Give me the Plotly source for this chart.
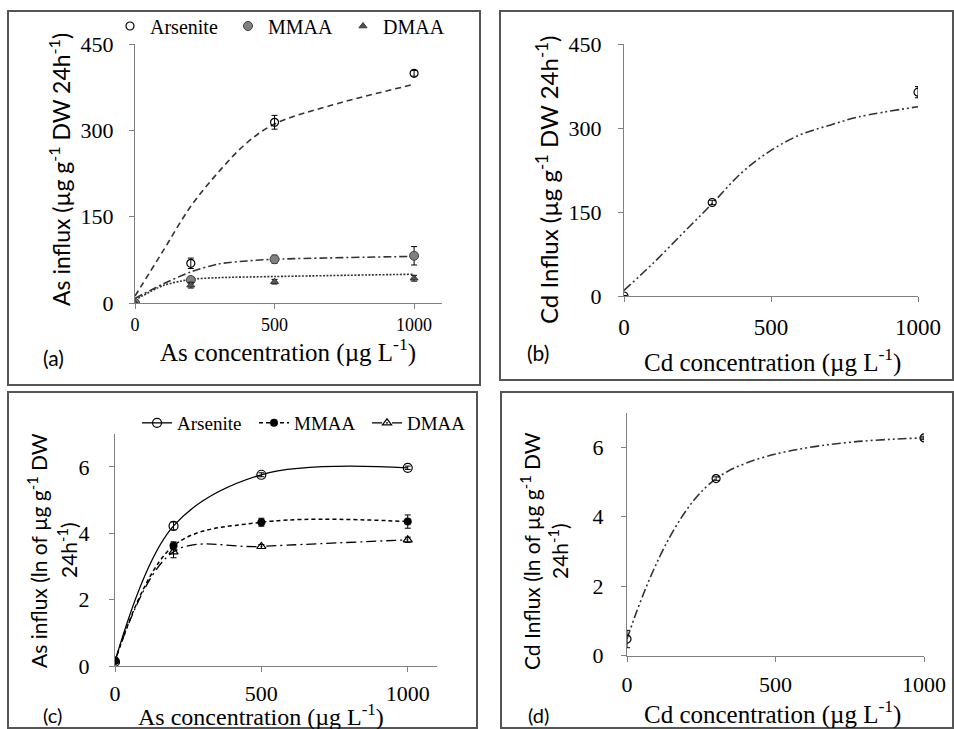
import plotly.graph_objects as go

W, H = 954, 729
SERIF = "Liberation Serif"
SANS = "Lato"
DARK = "#333333"
AXC = "#808080"

# ---------------- data ----------------
# Panel (a): As influx (µg g-1 DW 24h-1)
conc_a = [0, 200, 500, 1000]
ars_a = [0, 69, 314, 399]
ars_a_err = [2, 9, 12, 5]
mmaa_a = [0, 40, 76, 82]
mmaa_a_err = [1, 5, 7, 16]
dmaa_a = [0, 31, 37, 43]
dmaa_a_err = [1, 5, 4, 5]
# trend curves
ars_fit_x = [0, 100, 200, 300, 400, 500, 700, 1000]
ars_fit_a = [12, 90, 168, 228, 278, 311, 343, 380]
mmaa_fit_x = [0, 100, 200, 300, 400, 500, 1000]
mmaa_fit_a = [8, 33, 54, 68, 73, 76, 81]
dmaa_fit_x = [0, 100, 200, 300, 500, 1000]
dmaa_fit_a = [5, 30, 41, 44, 46, 50]

# Panel (b): Cd influx (µg g-1 DW 24h-1)
conc_b = [0, 300, 1000]
cd_b = [0, 167, 364]
cd_b_err = [1, 4, 10]
cd_fit_x = [0, 100, 200, 300, 400, 500, 600, 700, 800, 1000]
cd_fit_b = [10, 59, 112, 165, 220, 260, 288, 305, 320, 338]

# Panel (c): As influx (ln)
conc_c = [0, 200, 500, 1000]
ars_c = [0.13, 4.22, 5.76, 5.97]
ars_c_err = [0.05, 0.12, 0.06, 0.05]
mmaa_c = [0.15, 3.62, 4.33, 4.35]
mmaa_c_err = [0.05, 0.12, 0.12, 0.2]
dmaa_c = [0.15, 3.44, 3.6, 3.8]
dmaa_c_err = [0.05, 0.18, 0.06, 0.08]

# Panel (d): Cd influx (ln)
conc_d = [0, 300, 1000]
cd_d = [0.48, 5.1, 6.27]
cd_d_err = [0.25, 0.05, 0.05]

x_ticks = [0, 500, 1000]
y_ticks_abs = [0, 150, 300, 450]
y_ticks_ln = [0, 2, 4, 6]


def PX(x):
    return x / W


def PY(y):
    return 1 - y / H


fig = go.Figure()


def err(arr):
    return dict(type="data", array=arr, visible=True, color="black", thickness=1, width=3)


# Panel a
fig.add_trace(go.Scatter(x=ars_fit_x, y=ars_fit_a, mode="lines",
                         line=dict(color=DARK, width=1.6, dash="6px,4px", shape="spline", smoothing=1.0),
                         showlegend=False, xaxis="x", yaxis="y"))
fig.add_trace(go.Scatter(x=mmaa_fit_x, y=mmaa_fit_a, mode="lines",
                         line=dict(color=DARK, width=1.6, dash="8px,3px,2px,3px", shape="spline", smoothing=0.8),
                         showlegend=False, xaxis="x", yaxis="y"))
fig.add_trace(go.Scatter(x=dmaa_fit_x, y=dmaa_fit_a, mode="lines",
                         line=dict(color=DARK, width=1.6, dash="2px,1.5px", shape="spline", smoothing=0.8),
                         showlegend=False, xaxis="x", yaxis="y"))
fig.add_trace(go.Scatter(x=conc_a, y=ars_a, error_y=err(ars_a_err), mode="markers", name="Arsenite",
                         marker=dict(symbol="circle-open", size=8, color="black", line=dict(width=1.2)),
                         xaxis="x", yaxis="y", legend="legend"))
fig.add_trace(go.Scatter(x=conc_a, y=mmaa_a, error_y=err(mmaa_a_err), mode="markers", name="MMAA",
                         marker=dict(symbol="circle", size=9, color="#808080", line=dict(width=1, color="#404040")),
                         xaxis="x", yaxis="y", legend="legend3"))
fig.add_trace(go.Scatter(x=conc_a, y=dmaa_a, error_y=err(dmaa_a_err), mode="markers", name="DMAA",
                         marker=dict(symbol="triangle-up", size=7, color="#555555", line=dict(width=1, color="#333333")),
                         xaxis="x", yaxis="y", legend="legend4"))

# Panel b
fig.add_trace(go.Scatter(x=cd_fit_x, y=cd_fit_b, mode="lines",
                         line=dict(color=DARK, width=1.6, dash="9px,3px,2px,3px,2px,3px", shape="spline"),
                         showlegend=False, xaxis="x2", yaxis="y2"))
fig.add_trace(go.Scatter(x=conc_b, y=cd_b, error_y=err(cd_b_err), mode="markers",
                         marker=dict(symbol="circle-open", size=8, color="black", line=dict(width=1.2)),
                         showlegend=False, xaxis="x2", yaxis="y2"))

# Panel c
fig.add_trace(go.Scatter(x=conc_c, y=ars_c, error_y=err(ars_c_err), mode="lines+markers", name="Arsenite",
                         line=dict(color="black", width=1.3, shape="spline"),
                         marker=dict(symbol="circle-open", size=9, color="black", line=dict(width=1.2)),
                         xaxis="x3", yaxis="y3", legend="legend2"))
fig.add_trace(go.Scatter(x=conc_c, y=mmaa_c, error_y=err(mmaa_c_err), mode="lines+markers", name="MMAA",
                         line=dict(color="black", width=1.5, dash="4px,3px", shape="spline"),
                         marker=dict(symbol="circle", size=8, color="black"),
                         xaxis="x3", yaxis="y3", legend="legend5"))
fig.add_trace(go.Scatter(x=conc_c, y=dmaa_c, error_y=err(dmaa_c_err), mode="lines+markers", name="DMAA",
                         line=dict(color="black", width=1.3, dash="10px,4px,2px,4px", shape="spline"),
                         marker=dict(symbol="triangle-up-open", size=8, color="black", line=dict(width=1.2)),
                         xaxis="x3", yaxis="y3", legend="legend6"))

# Panel d
fig.add_trace(go.Scatter(x=conc_d, y=cd_d, error_y=err(cd_d_err), mode="lines+markers",
                         line=dict(color=DARK, width=1.6, dash="9px,3px,2px,3px,2px,3px", shape="spline"),
                         marker=dict(symbol="circle-open", size=8, color="black", line=dict(width=1.2)),
                         showlegend=False, xaxis="x4", yaxis="y4"))


def xax(dom, rng, anchor, fs, standoff):
    return dict(domain=[PX(dom[0]), PX(dom[1])], range=rng, anchor=anchor, showline=True, linecolor=AXC,
                linewidth=1, ticks="outside", ticklen=5, tickcolor=AXC, tickmode="array", tickvals=x_ticks,
                tickfont=dict(family=SERIF, size=fs, color="black"), showgrid=False, zeroline=False,
                ticklabelstandoff=standoff, automargin=False, fixedrange=True)


def yax(dom, rng, anchor, tv, fs, standoff):
    return dict(domain=[PY(dom[0]), PY(dom[1])], range=rng, anchor=anchor, showline=True, linecolor=AXC,
                linewidth=1, ticks="outside", ticklen=5, tickcolor=AXC, tickmode="array", tickvals=tv,
                tickfont=dict(family=SERIF, size=fs, color="black"), showgrid=False, zeroline=False,
                ticklabelstandoff=standoff, automargin=False, fixedrange=True)


def leg(x, y, fs, anchor="middle"):
    return dict(orientation="h", x=PX(x), y=PY(y), xanchor="left", yanchor=anchor,
                font=dict(family=SERIF, size=fs, color="black"), itemwidth=30, bgcolor="rgba(0,0,0,0)")


fig.update_layout(
    width=W, height=H, margin=dict(l=0, r=0, t=0, b=0, autoexpand=False),
    paper_bgcolor="white", plot_bgcolor="white",
    xaxis=xax((135, 442), [0, 1100], "y", 18, 0),
    yaxis=yax((303, 44), [0, 450], "x", y_ticks_abs, 22, 11),
    xaxis2=xax((624, 918), [0, 1000], "y2", 23, 5),
    yaxis2=yax((296, 44), [0, 450], "x2", y_ticks_abs, 22, 12),
    xaxis3=xax((115, 437), [0, 1100], "y3", 22, 3),
    yaxis3=yax((666, 433.6), [0, 7], "x3", y_ticks_ln, 22, 15),
    xaxis4=xax((627, 924), [0, 1000], "y4", 22, 4),
    yaxis4=yax((655.7, 412.6), [0, 7], "x4", y_ticks_ln, 22, 13),
    legend=leg(110, 26, 20),
    legend3=leg(228, 26, 20),
    legend4=leg(343, 26, 20),
    legend2=leg(137, 423, 19),
    legend5=leg(254, 423, 19),
    legend6=leg(367, 423, 19),
    font=dict(family=SERIF, color="black"),
)

# panel frames
for (x0, y0, x1, y1) in [(8, 11, 480, 385), (500, 11, 953, 380), (8, 392, 477, 728), (501, 392, 953, 728)]:
    fig.add_shape(type="rect", xref="paper", yref="paper", x0=PX(x0), x1=PX(x1), y0=PY(y0), y1=PY(y1),
                  line=dict(color="#555555", width=2), layer="below")


def ann(text, x, y, size, family, angle=0):
    fig.add_annotation(text=text, xref="paper", yref="paper", x=PX(x), y=PY(y), xanchor="center", yanchor="middle",
                       showarrow=False, textangle=angle, font=dict(family=family, size=size, color="black"))


# y titles
ann("As influx (µg g<sup>-1</sup> DW 24h<sup>-1</sup>)", 60, 170, 23, SANS, -90)
ann("Cd Influx (µg g<sup>-1</sup> DW 24h<sup>-1</sup>)", 547, 180, 24, SANS, -90)
ann("As influx (ln of µg g<sup>-1</sup> DW", 37, 551, 21, SANS, -90)
ann("24h<sup>-1</sup>)", 67, 550, 21, SANS, -90)
ann("Cd Influx (ln of µg g<sup>-1</sup> DW", 530, 551, 21, SANS, -90)
ann("24h<sup>-1</sup>)", 558, 551, 21, SANS, -90)

# x titles
ann("As concentration (µg L<sup>-1</sup>)", 288, 350, 25, SERIF)
ann("Cd concentration (µg L<sup>-1</sup>)", 772, 360, 25, SERIF)
ann("As concentration (µg L<sup>-1</sup>)", 261, 715, 24, SERIF)
ann("Cd concentration (µg L<sup>-1</sup>)", 772, 712, 25, SERIF)

# panel letters
ann("(a)", 53, 357, 21, SANS)
ann("(b)", 538, 352, 21, SANS)
ann("(c)", 52, 715, 20, SANS)
ann("(d)", 538, 715, 20, SANS)

fig.write_html("out.html")
